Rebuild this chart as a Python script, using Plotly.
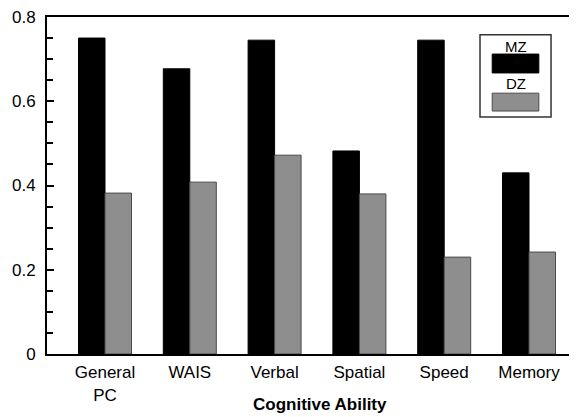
import plotly.graph_objects as go

categories = ["General<br>PC", "WAIS", "Verbal", "Spatial", "Speed", "Memory"]
mz_values = [0.75, 0.677, 0.745, 0.482, 0.745, 0.43]
dz_values = [0.382, 0.408, 0.472, 0.38, 0.23, 0.242]
y_tick_vals = [0, 0.2, 0.4, 0.6, 0.8]
y_tick_text = ["0", "0.2", "0.4", "0.6", "0.8"]

FONT = "Liberation Sans, Arial, Helvetica, sans-serif"
x_idx = list(range(len(categories)))

fig = go.Figure()
fig.add_trace(go.Bar(x=x_idx, y=mz_values, name="MZ",
                     marker=dict(color="#000000", line=dict(color="#000000", width=1))))
fig.add_trace(go.Bar(x=x_idx, y=dz_values, name="DZ",
                     marker=dict(color="#8e8e8e", line=dict(color="#4a4a4a", width=1))))

fig.update_layout(
    width=569, height=409,
    margin=dict(l=39, r=0, t=9, b=63, autoexpand=False),
    paper_bgcolor="white", plot_bgcolor="white",
    barmode="group", bargap=0.375, bargroupgap=0,
    showlegend=False,
    font=dict(family=FONT, size=17, color="black"),
    xaxis=dict(
        tickmode="array", tickvals=x_idx, ticktext=categories,
        range=[-0.684, 5.566], showgrid=False, zeroline=False,
        showline=True, linecolor="black", linewidth=2, mirror=True,
        ticks="", tickfont=dict(size=17), ticklabelstandoff=2,
    ),
    yaxis=dict(
        range=[0, 0.8], tickmode="array", tickvals=y_tick_vals, ticktext=y_tick_text,
        showgrid=False, zeroline=False,
        showline=True, linecolor="black", linewidth=2,
        ticks="inside", ticklen=7, tickwidth=1.5, tickcolor="black",
        minor=dict(dtick=0.05, ticks="inside", ticklen=6, tickwidth=1.5, tickcolor="black"),
        tickfont=dict(size=17), ticklabelstandoff=6, ticklabeloverflow="allow",
    ),
)

# Axis title
fig.add_annotation(xref="paper", yref="paper", x=0.515, y=0, yshift=-50,
                   xanchor="center", yanchor="middle", showarrow=False,
                   text="<b>Cognitive Ability</b>", font=dict(size=17, family=FONT, color="black"))

# Custom legend box (paper coordinates)
fig.add_shape(type="rect", xref="paper", yref="paper", x0=0.817, x1=0.951, y0=0.703, y1=0.947,
              line=dict(color="#333333", width=1.5), fillcolor="white", layer="above")
fig.add_shape(type="rect", xref="paper", yref="paper", x0=0.840, x1=0.928, y0=0.834, y1=0.890,
              line=dict(color="black", width=1), fillcolor="black", layer="above")
fig.add_shape(type="rect", xref="paper", yref="paper", x0=0.840, x1=0.928, y0=0.721, y1=0.774,
              line=dict(color="#4a4a4a", width=1), fillcolor="#8e8e8e", layer="above")
fig.add_annotation(xref="paper", yref="paper", x=0.884, y=0.913, text="MZ", showarrow=False,
                   xanchor="center", yanchor="middle",
                   font=dict(size=15, family=FONT, color="black"))
fig.add_annotation(xref="paper", yref="paper", x=0.884, y=0.803, text="DZ", showarrow=False,
                   xanchor="center", yanchor="middle",
                   font=dict(size=15, family=FONT, color="black"))

fig.write_html("out.html")
